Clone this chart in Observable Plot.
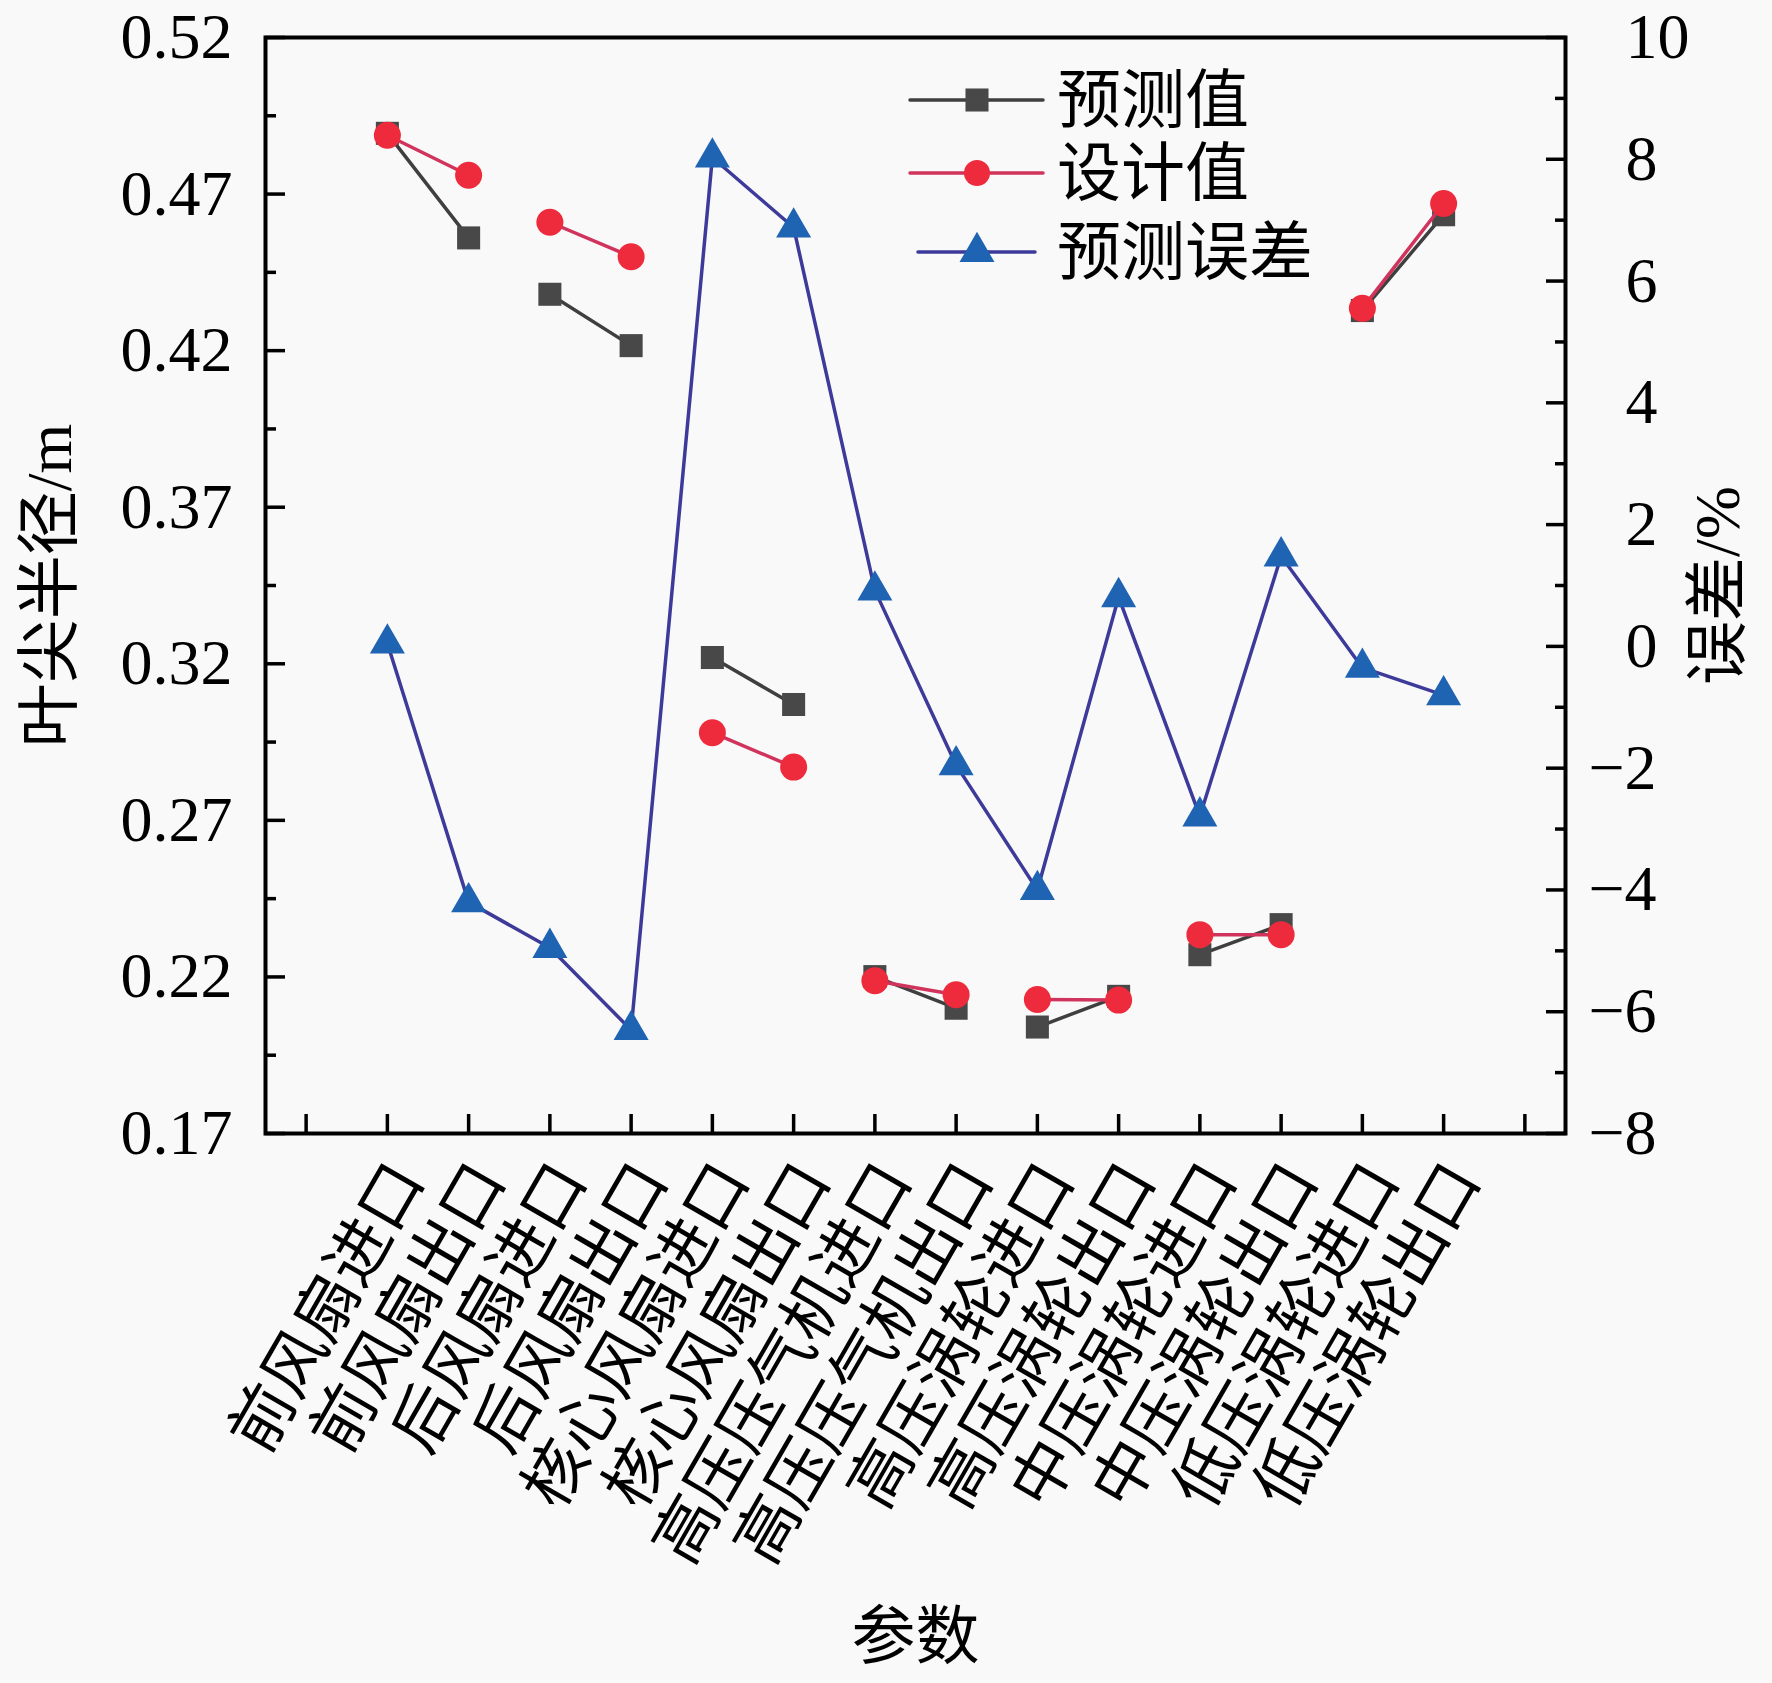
<!DOCTYPE html>
<html><head><meta charset="utf-8">
<script src="https://cdn.jsdelivr.net/npm/d3@7"></script>
<script src="https://cdn.jsdelivr.net/npm/@observablehq/plot@0.6"></script>
<style>
body{margin:0;background:#f9f9f9;}
#wrap{position:relative;width:1772px;height:1683px;}
#legend{position:absolute;left:0;top:0;pointer-events:none;}
</style></head><body><div id="wrap"></div>
<script>
const categories = ["前风扇进口","前风扇出口","后风扇进口","后风扇出口","核心风扇进口","核心风扇出口","高压压气机进口","高压压气机出口","高压涡轮进口","高压涡轮出口","中压涡轮进口","中压涡轮出口","低压涡轮进口","低压涡轮出口"];
const predicted = [0.4894,0.456,0.438,0.4216,0.322,0.307,0.2201,0.210,0.204,0.2138,0.2271,0.2367,0.4328,0.4634];
const design    = [0.4888,0.476,0.461,0.450,0.298,0.287,0.2188,0.2143,0.2128,0.2126,0.2335,0.2335,0.4335,0.4670];
const errorPct  = [0.05,-4.2,-4.95,-6.3,8.03,6.88,0.92,-1.95,-4.0,0.81,-2.79,1.48,-0.35,-0.8];
const pairGroup = [1,1,2,2,3,3,4,4,5,5,6,6,7,7];
const leftMajorTicks = [0.17,0.22,0.27,0.32,0.37,0.42,0.47,0.52];
const leftMinorTicks = [0.195,0.245,0.295,0.345,0.395,0.445,0.495];
const rightMajorTicks = [-8,-6,-4,-2,0,2,4,6,8,10];
const rightMinorTicks = [-7,-5,-3,-1,1,3,5,7,9];
const xTickPositions = [0,1,2,3,4,5,6,7,8,9,10,11,12,13,14,15];
const legendLabels = ["预测值","设计值","预测误差"];

const yDomain = [0.17, 0.52], eDomain = [-8, 10];
const eToY = e => yDomain[0] + (e - eDomain[0]) * (yDomain[1] - yDomain[0]) / (eDomain[1] - eDomain[0]);
const yToE = y => eDomain[0] + (y - yDomain[0]) * (eDomain[1] - eDomain[0]) / (yDomain[1] - yDomain[0]);
const fmtE = v => { const e = Math.round(yToE(v)); return e < 0 ? "\u2212" + Math.abs(e) : String(e); };

const rows = categories.map((c, i) => ({idx: i + 1, cat: c, pred: predicted[i], design: design[i], err: errorPct[i], ey: eToY(errorPct[i]), pair: pairGroup[i]}));

const C = {
  predLine: "#3f3f3f", predFill: "#484848",
  desLine: "#d0345c", desFill: "#ee2b3c",
  errLine: "#3d3a9a", errFill: "#1f63b3"
};
const FONT = "'Liberation Serif','Times New Roman','Noto Sans CJK SC',serif";

const chart = Plot.plot({
  width: 1772, height: 1683,
  marginLeft: 265, marginRight: 207, marginTop: 37, marginBottom: 550,
  style: {fontFamily: FONT, fontSize: "64px", background: "#f9f9f9", color: "#000", overflow: "visible"},
  x: {domain: [-0.5, 15.5]},
  y: {domain: yDomain},
  marks: [
    Plot.axisX(xTickPositions, {tickSize: -19, strokeWidth: 3.5, tickFormat: () => "", label: null}),
    Plot.axisX(rows.map(d => d.idx), {tickSize: 0, tickRotate: -60, tickPadding: 36, dx: 21, tickFormat: i => categories[i - 1], label: null}),
    Plot.axisX([], {tickSize: 0, label: "参数", labelAnchor: "center", labelArrow: "none", labelOffset: 524}),
    Plot.axisY(leftMajorTicks, {tickSize: -20, strokeWidth: 3.5, tickPadding: 53, tickFormat: d3.format(".2f"), label: "叶尖半径/m", labelAnchor: "center", labelArrow: "none", labelOffset: 240}),
    Plot.axisY(leftMinorTicks, {tickSize: -11, strokeWidth: 3.5, tickFormat: () => "", label: null}),
    Plot.axisY(rightMajorTicks.filter(t => t >= 0).map(eToY), {anchor: "right", tickSize: -20, strokeWidth: 3.5, tickPadding: 80, tickFormat: fmtE, label: "误差/%", labelAnchor: "center", labelArrow: "none", labelOffset: 173}),
    Plot.axisY(rightMajorTicks.filter(t => t < 0).map(eToY), {anchor: "right", tickSize: -20, strokeWidth: 3.5, tickPadding: 43, tickFormat: fmtE, label: null}),
    Plot.axisY(rightMinorTicks.map(eToY), {anchor: "right", tickSize: -11, strokeWidth: 3.5, tickFormat: () => "", label: null}),
    Plot.frame({stroke: "#000", strokeWidth: 4}),
    Plot.line(rows, {x: "idx", y: "pred", z: "pair", stroke: C.predLine, strokeWidth: 3.5}),
    Plot.dot(rows, {x: "idx", y: "pred", symbol: "square", r: 13, fill: C.predFill, stroke: "none"}),
    Plot.line(rows, {x: "idx", y: "design", z: "pair", stroke: C.desLine, strokeWidth: 3.5}),
    Plot.dot(rows, {x: "idx", y: "design", symbol: "circle", r: 13.5, fill: C.desFill, stroke: "none"}),
    Plot.line(rows, {x: "idx", y: "ey", stroke: C.errLine, strokeWidth: 3.5}),
    Plot.dot(rows, {x: "idx", y: "ey", symbol: "triangle", r: 13, fill: C.errFill, stroke: "none"})
  ]
});
document.getElementById("wrap").appendChild(chart);

const legendStyles = [
  {symbol: d3.symbolSquare, fill: C.predFill, stroke: C.predLine, y: 100, x1: 910, x2: 1043},
  {symbol: d3.symbolCircle, fill: C.desFill, stroke: C.desLine, y: 173, x1: 910, x2: 1043},
  {symbol: d3.symbolTriangle, fill: C.errFill, stroke: C.errLine, y: 252, x1: 918, x2: 1035}
];
const lg = d3.select("#wrap").append("svg").attr("id", "legend").attr("width", 1772).attr("height", 1683);
legendLabels.forEach((lab, i) => {
  const s = legendStyles[i];
  const g = lg.append("g");
  g.append("line").attr("x1", s.x1).attr("x2", s.x2).attr("y1", s.y).attr("y2", s.y)
    .attr("stroke", s.stroke).attr("stroke-width", 3.5).attr("stroke-linecap", "round");
  g.append("path").attr("d", d3.symbol(s.symbol, Math.PI * 13 * 13)()).attr("transform", `translate(977,${s.y})`)
    .attr("fill", s.fill);
  g.append("text").attr("x", 1057).attr("y", s.y).attr("dy", "0.35em")
    .attr("font-family", FONT).attr("font-size", 64).attr("fill", "#000").text(lab);
});
</script></body></html>
